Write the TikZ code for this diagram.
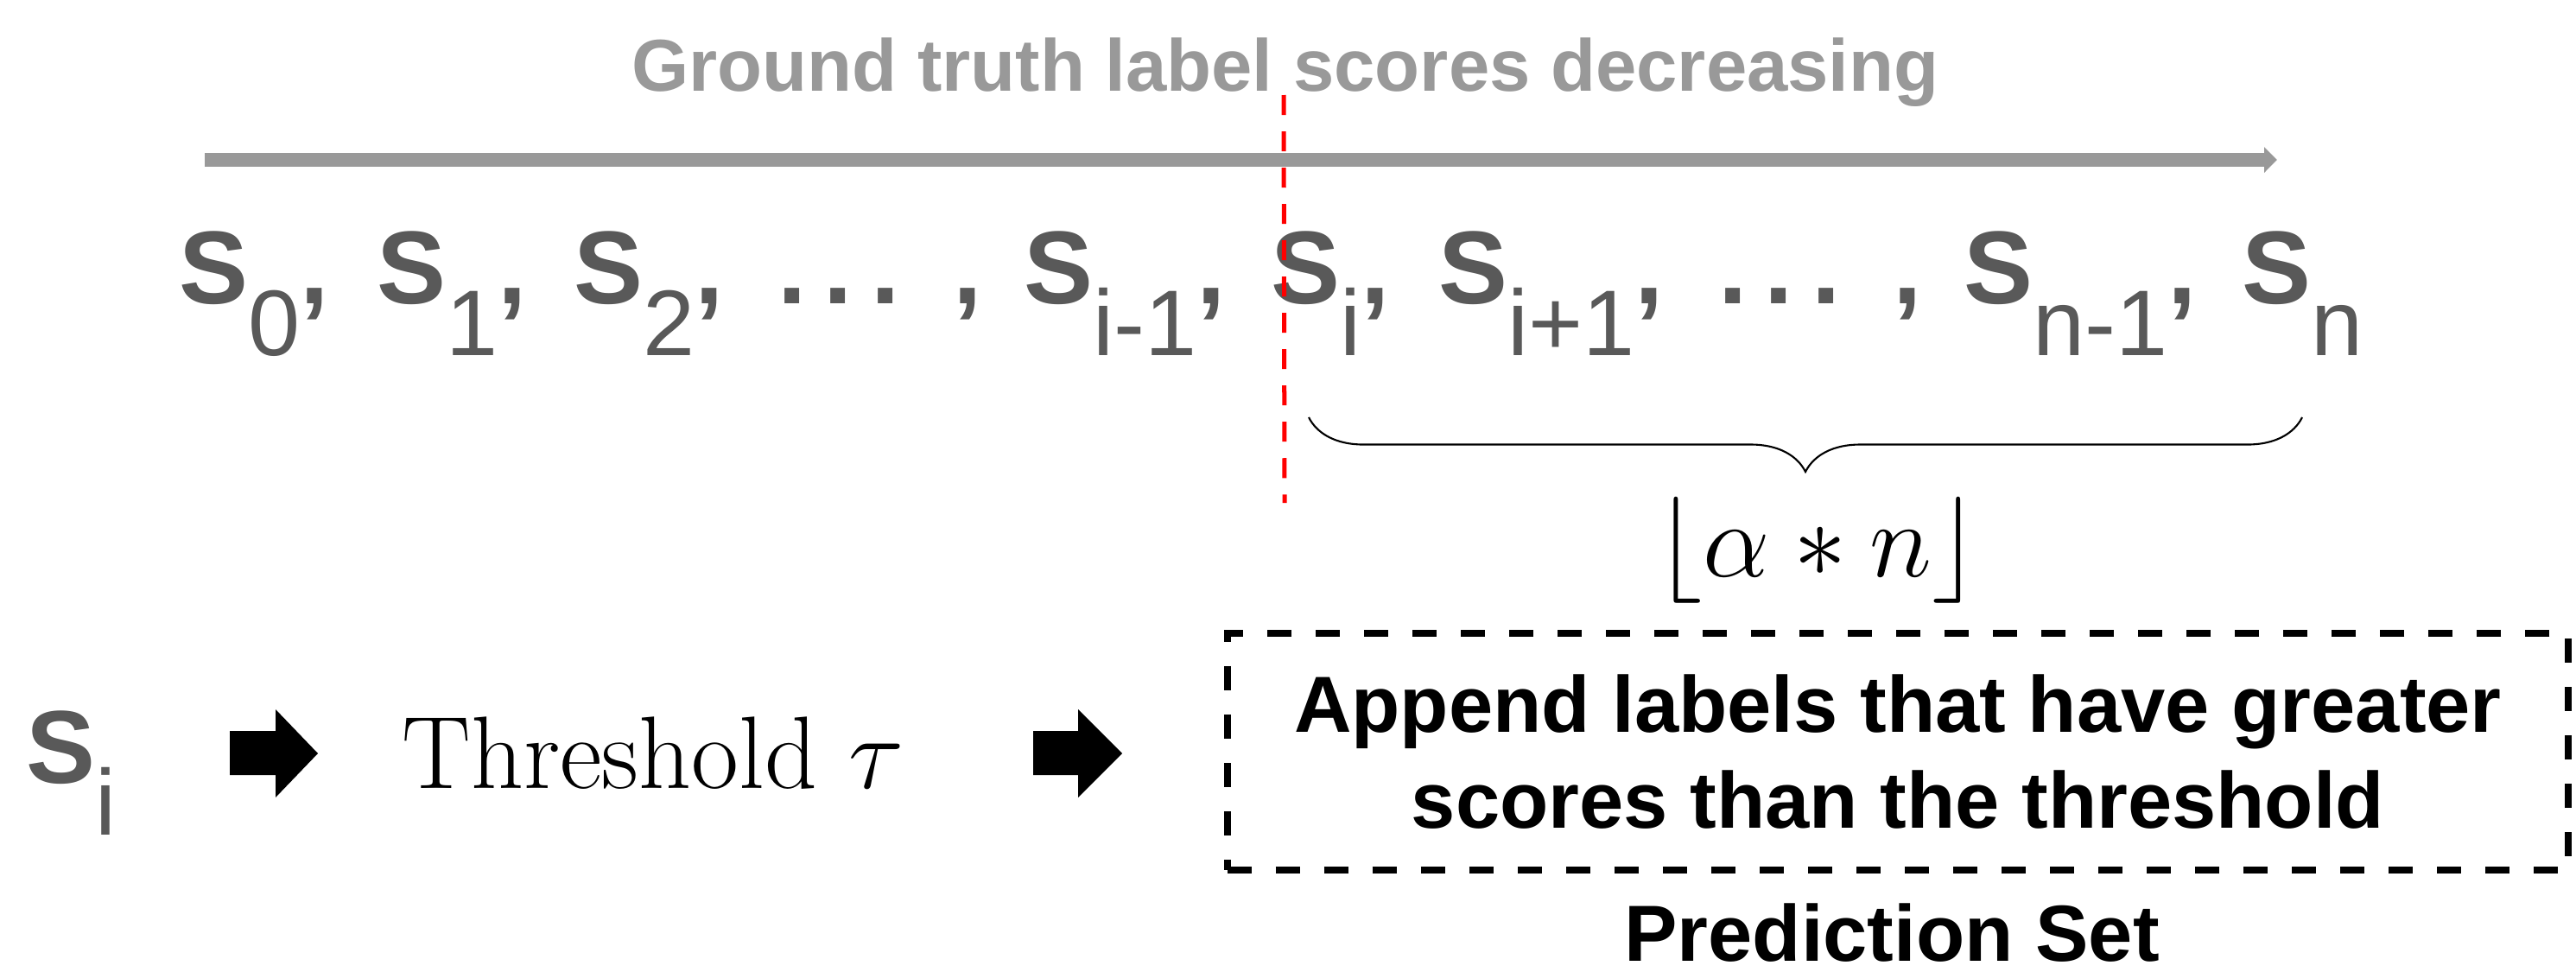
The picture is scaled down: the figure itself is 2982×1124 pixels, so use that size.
\RequirePackage{fix-cm}
\documentclass[tikz,border=0pt]{standalone}
\usepackage{fontspec}
\newfontfamily\arial{Liberation Sans}
\usetikzlibrary{arrows.meta,decorations.pathreplacing}
\newdimen\px \px=0.01cm
\definecolor{sgray}{RGB}{89,89,89}
\definecolor{ggray}{RGB}{153,153,153}
\newcommand\bigS{\fontsize{34.1}{40}\selectfont\arial\bfseries}
\newcommand\subf{\fontsize{30.7}{36}\selectfont\arial\mdseries}
\newcommand\Sx[2]{{\bigS S}\raisebox{-60\px}{\subf #1}{\bigS #2}}
\newcommand\Dots[1]{{\bigS .\kern20\px.\kern21\px.\kern#1\px,}}
\begin{document}
\begin{tikzpicture}[x=0.01cm,y=-0.01cm,
  sitem/.style={anchor=base west,inner sep=0,text=sgray},
  blockarrow/.style={fill=black},
  boxtext/.style={font=\fontsize{26.2}{31.6}\selectfont\arial\bfseries}]
\useasboundingbox (0,0) rectangle (2982,1124);
% title and axis
\node[anchor=base,inner sep=0,text=ggray,font=\fontsize{24.2}{29}\selectfont\arial\bfseries] (title) at (1488,105) {Ground truth label scores decreasing};
\coordinate (axs) at (237,185);
\coordinate (axe) at (2636,185);
\draw[ggray,line width=0.16cm,-{Triangle[length=0.15cm,width=0.29cm]}] (axs) -- (axe);
% sequence
\node[sitem] (s0) at (207,351) {\Sx{0}{,}};
\node[sitem] (s1) at (436,351) {\Sx{1}{,}};
\node[sitem] (s2) at (664,351) {\Sx{2}{,}};
\node[sitem] (d1) at (900,351) {\Dots{62}};
\node[sitem] (sim1) at (1185,351) {\Sx{i-1}{,}};
\node[sitem] (si) at (1471,351) {\Sx{i}{,}};
\node[sitem] (sip1) at (1665,351) {\Sx{i+1}{,}};
\node[sitem] (d2) at (1989,351) {\Dots{61}};
\node[sitem] (snm1) at (2273,351) {\Sx{n-1}{,}};
\node[sitem] (sn) at (2595,351) {\Sx{n}{}};
% red cut
\coordinate (cuttop) at (1486,110);
\coordinate (cutbot) at (1487,582);
\draw[red,line width=0.05cm,dash pattern=on 0.23cm off 0.19cm] (cuttop) -- (cutbot);
% brace
\coordinate (bl) at (1515,483);
\coordinate (br) at (2665,483);
\draw[decorate,decoration={brace,amplitude=0.63cm,mirror},line width=0.6pt] (bl) -- (br);
\node[anchor=base,inner sep=0,font=\fontsize{35}{42}\selectfont] (floor) at (2104,667) {$\lfloor \alpha * n \rfloor$};
% bottom row
\node[sitem] (sib) at (30,906) {\Sx{i}{}};
\node[anchor=base west,inner sep=0,font=\fontsize{33.9}{40}\selectfont] (thr) at (465,912) {Threshold $\tau$};
\fill[blockarrow] (266,846) -- (319,846) -- (319,821) -- (368,872) -- (319,923) -- (319,897) -- (266,897) -- cycle;
\fill[blockarrow] (1196,846) -- (1248,846) -- (1248,821) -- (1299,872) -- (1248,923) -- (1248,897) -- (1196,897) -- cycle;
\node[draw,line width=0.08cm,dash pattern=on 0.28cm off 0.28cm,minimum width=15.52cm,minimum height=2.74cm,inner sep=0,align=center,boxtext] (box) at (2197,870) {Append labels that have greater\\scores than the threshold};
\node[anchor=base,inner sep=0,boxtext] (pred) at (2190,1112) {Prediction Set};
\end{tikzpicture}
\end{document}
